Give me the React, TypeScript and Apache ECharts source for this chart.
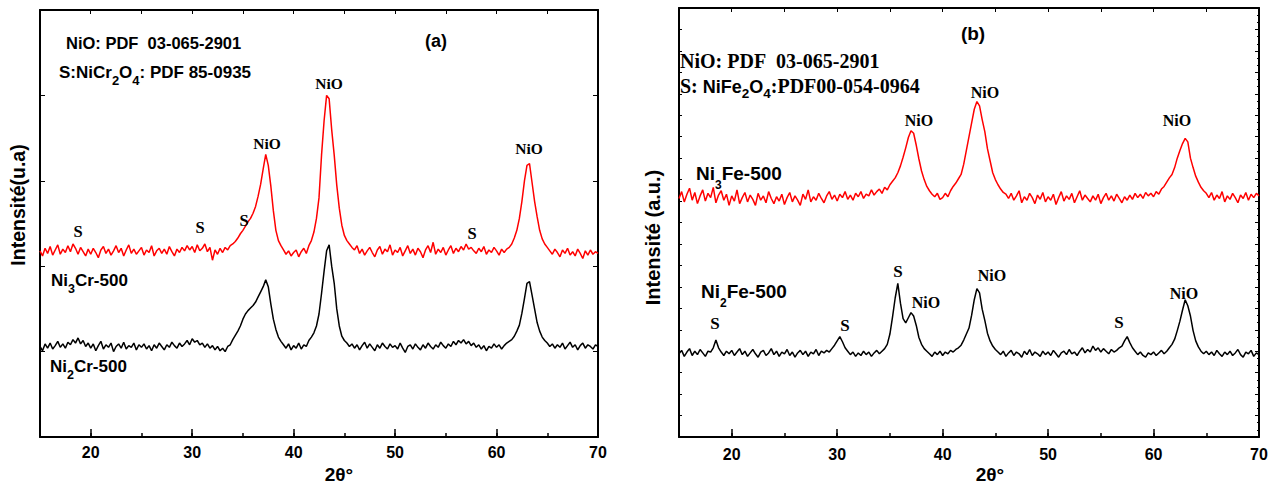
import React, { useEffect, useRef } from "react";
import * as echarts from "echarts";

// 2θ sampling of the digitised patterns
const ANGLE_START = 15;
const ANGLE_STEP = 0.25;

// (a) Ni3Cr-500 (red), 15° → 70° every 0.25°
const ni3Cr500 = [
  218, 212, 221, 215, 223, 213, 219, 225, 214, 220, 216, 224, 217, 226, 221, 214, 222, 217, 212, 220,
  214, 221, 216, 210, 219, 223, 215, 220, 213, 218, 224, 216, 221, 212, 219, 225, 215, 220, 214, 218,
  222, 213, 219, 216, 224, 212, 218, 221, 215, 220, 214, 223, 217, 212, 220, 216, 222, 218, 224, 219,
  223, 216, 225, 218, 221, 226, 217, 222, 207, 219, 214, 221, 216, 222, 219, 224, 226, 229, 233, 238,
  242, 247, 252, 256, 262, 270, 282, 296, 314, 331, 318, 294, 265, 242, 230, 224, 219, 214, 218, 212,
  216, 219, 211, 217, 221, 215, 224, 230, 240, 256, 280, 330, 370, 400, 396, 360, 330, 295, 268, 248,
  236, 230, 226, 222, 219, 224, 215, 220, 213, 218, 222, 216, 211, 219, 223, 214, 220, 217, 225, 213,
  219, 216, 222, 212, 218, 224, 215, 220, 213, 221, 217, 210, 219, 224, 216, 228, 214, 220, 216, 222,
  213, 219, 224, 215, 221, 217, 223, 219, 226, 220, 222, 218, 215, 221, 217, 223, 214, 219, 216, 222,
  218, 213, 220, 216, 220, 222, 226, 233, 242, 256, 276, 300, 318, 320, 298, 276, 258, 242, 232, 226,
  222, 218, 214, 220, 216, 211, 219, 215, 221, 213, 217, 212, 220, 215, 209, 218, 213, 219, 214, 217,
  215,
];

// (a) Ni2Cr-500 (black)
const ni2Cr500 = [
  106, 101, 109, 104, 110, 103, 107, 112, 105, 109, 104, 111, 108, 114, 110, 116, 109, 113, 106, 110,
  104, 109, 101, 107, 112, 103, 108, 105, 110, 100, 106, 109, 104, 111, 103, 107, 105, 110, 102, 108,
  105, 109, 103, 107, 101, 108, 104, 110, 106, 102, 108, 105, 111, 107, 104, 110, 106, 109, 113, 108,
  115, 111, 113, 108, 110, 105, 109, 104, 107, 102, 106, 101, 104, 100, 106, 108, 114, 119, 124, 130,
  138, 144, 148, 151, 154, 158, 164, 170, 176, 184, 176, 156, 138, 126, 117, 112, 108, 104, 109, 102,
  107, 104, 110, 103, 108, 106, 113, 117, 122, 130, 144, 168, 194, 218, 225, 200, 180, 150, 130, 118,
  113, 110, 106, 109, 104, 108, 102, 107, 111, 104, 109, 105, 101, 108, 104, 110, 106, 103, 109, 105,
  107, 103, 110, 104, 99, 106, 108, 103, 109, 105, 102, 108, 104, 110, 106, 103, 108, 105, 111, 107,
  104, 109, 106, 112, 108, 113, 110, 114, 109, 112, 107, 110, 105, 108, 103, 107, 101, 106, 104, 109,
  105, 108, 103, 107, 110, 112, 114, 118, 124, 131, 145, 162, 180, 182, 166, 150, 134, 124, 117, 113,
  110, 106, 109, 104, 108, 105, 110, 103, 107, 111, 105, 108, 102, 107, 110, 104, 108, 106, 103, 108,
  106,
];

// (b) Ni3Fe-500 (red)
const ni3Fe500 = [
  278, 286, 274, 283, 290, 276, 285, 272, 281, 288, 275, 284, 279, 291, 273, 282, 287, 276, 283, 270,
  281, 275, 288, 272, 279, 285, 274, 282, 277, 270, 284, 276, 281, 273, 286, 278, 272, 280, 275, 283,
  271, 279, 285, 274, 281, 276, 270, 283, 277, 288, 274, 280, 276, 284, 278, 273, 281, 286, 277, 282,
  275, 283, 279, 286, 277, 282, 276, 284, 280, 286, 278, 283, 281, 288, 282, 286, 289, 284, 291, 288,
  294, 298, 302, 308, 316, 326, 337, 349, 357, 354, 340, 324, 310, 300, 292, 287, 283, 280, 284, 277,
  279, 284, 280, 287, 292, 296, 301, 306, 318, 334, 350, 366, 382, 391, 386, 370, 356, 336, 322, 308,
  300, 294, 289, 285, 283, 278, 284, 276, 281, 287, 273, 280, 276, 284, 279, 272, 282, 277, 285, 274,
  280, 276, 283, 271, 279, 286, 275, 281, 277, 284, 273, 280, 287, 276, 282, 278, 274, 281, 276, 283,
  272, 279, 284, 276, 281, 275, 283, 278, 273, 280, 276, 282, 277, 284, 279, 283, 278, 285, 281, 284,
  280, 286, 283, 289, 292, 297, 302, 306, 314, 325, 334, 342, 348, 344, 325, 314, 304, 297, 291, 287,
  284, 279, 285, 276, 282, 278, 286, 274, 281, 277, 284, 279, 273, 282, 278, 285, 276, 283, 279, 284,
  281,
];

// (b) Ni2Fe-500 (black)
const ni2Fe500 = [
  97, 101, 94, 99, 103, 95, 100, 96, 102, 98, 94, 100, 99, 104, 113, 104, 99, 95, 100, 97,
  101, 95, 99, 103, 96, 100, 94, 98, 102, 97, 93, 99, 101, 95, 98, 103, 96, 100, 94, 99,
  97, 102, 95, 99, 93, 98, 101, 96, 100, 94, 99, 97, 102, 95, 100, 98, 101, 99, 103, 107,
  112, 117, 111, 104, 100, 96, 99, 94, 98, 95, 100, 96, 99, 94, 98, 101, 97, 100, 103, 108,
  120, 140, 162, 179, 156, 138, 133, 139, 145, 141, 130, 116, 108, 103, 100, 97, 94, 99, 96, 100,
  95, 99, 97, 101, 99, 102, 104, 107, 113, 120, 127, 142, 160, 173, 168, 149, 136, 121, 112, 106,
  102, 99, 96, 100, 94, 98, 101, 95, 99, 97, 93, 100, 96, 102, 95, 99, 97, 94, 100, 96,
  99, 95, 101, 97, 93, 98, 100, 96, 102, 97, 99, 95, 100, 104, 98, 102, 99, 106, 101, 104,
  99, 103, 100, 97, 102, 99, 101, 104, 106, 112, 117, 110, 104, 100, 96, 99, 95, 93, 98, 96,
  99, 95, 98, 101, 97, 100, 104, 108, 114, 124, 135, 148, 160, 153, 141, 124, 112, 105, 100, 97,
  100, 96, 99, 95, 101, 97, 94, 99, 96, 100, 95, 98, 102, 96, 93, 99, 97, 101, 94, 98,
  96,
];

const X_MIN = 15;
const X_MAX = 70;
const Y_MIN = 0;
const Y_MAX = 500;

const SANS = '"Liberation Sans", Arial, Helvetica, sans-serif';
const SERIF = '"Liberation Serif", "Times New Roman", Times, serif';

function toPairs(values: number[]) {
  return values.map((v, i) => [ANGLE_START + i * ANGLE_STEP, v]);
}

const AXIS_COLOR = "#000";

function txt(
  x: number,
  y: number,
  text: string,
  fontSize: number,
  family: string,
  align: string = "center",
  rotation = 0
) {
  return {
    type: "text",
    x,
    y,
    rotation,
    silent: true,
    z: 10,
    style: {
      text,
      fill: "#000",
      fontSize,
      fontWeight: "bold",
      fontFamily: family,
      align,
      textAlign: align,
      verticalAlign: "middle",
      textVerticalAlign: "middle",
    },
  };
}

// rich text with subscripts; y is centre of the main glyphs
function richTxt(
  x: number,
  mainCy: number,
  text: string,
  rich: Record<string, any>,
  pb: number
) {
  return {
    type: "text",
    x,
    y: mainCy + pb / 2,
    silent: true,
    z: 10,
    style: {
      text,
      rich,
      fill: "#000",
      align: "left",
      textAlign: "left",
      verticalAlign: "middle",
      textVerticalAlign: "middle",
    },
  };
}

function mainTok(fontSize: number, family: string, pb: number) {
  return {
    fontSize,
    fontFamily: family,
    fontWeight: "bold",
    color: "#000",
    lineHeight: fontSize,
    verticalAlign: "bottom",
    padding: [0, 0, pb, 0],
  };
}
function subTok(fontSize: number, family: string) {
  return {
    fontSize,
    fontFamily: family,
    fontWeight: "bold",
    color: "#000",
    lineHeight: fontSize,
    verticalAlign: "bottom",
  };
}

function xAxes(grid: number, labelMargin: number) {
  const tickStyle = { color: AXIS_COLOR, width: 1.5 };
  return [
    {
      gridIndex: grid,
      type: "value",
      min: X_MIN,
      max: X_MAX,
      splitNumber: 5,
      position: "bottom",
      axisLine: { show: true, onZero: false, lineStyle: { color: AXIS_COLOR, width: 2 } },
      axisTick: { show: true, inside: true, length: 8, lineStyle: tickStyle },
      splitLine: { show: false },
      axisLabel: {
        show: true,
        margin: labelMargin,
        color: "#000",
        fontFamily: SANS,
        fontWeight: "bold",
        fontSize: 16,
        formatter: (v: number) => (v % 10 === 0 ? String(v) : ""),
      },
    },
    {
      gridIndex: grid,
      type: "value",
      min: X_MIN,
      max: X_MAX,
      interval: 5,
      position: "bottom",
      axisLine: { show: false, onZero: false },
      axisTick: { show: true, inside: true, length: 4, lineStyle: tickStyle },
      splitLine: { show: false },
      axisLabel: { show: false },
    },
    {
      gridIndex: grid,
      type: "value",
      min: X_MIN,
      max: X_MAX,
      interval: 5,
      position: "top",
      axisLine: { show: true, onZero: false, lineStyle: { color: AXIS_COLOR, width: 2 } },
      axisTick: { show: true, inside: true, length: 4, lineStyle: { color: AXIS_COLOR, width: 1 } },
      splitLine: { show: false },
      axisLabel: { show: false },
    },
  ];
}

function yAxis(grid: number, position: string, interval: number, len: number, minor: boolean) {
  return {
    gridIndex: grid,
    type: "value",
    min: Y_MIN,
    max: Y_MAX,
    interval,
    position,
    axisLine: { show: true, onZero: false, lineStyle: { color: AXIS_COLOR, width: 2 } },
    axisTick: { show: true, inside: true, length: len, lineStyle: { color: AXIS_COLOR, width: 1 } },
    minorTick: { show: minor, splitNumber: 3, length: 2, lineStyle: { color: AXIS_COLOR, width: 1 } },
    splitLine: { show: false },
    axisLabel: { show: false },
  };
}

function line(data: number[], color: string, xi: number, yi: number) {
  return {
    type: "line",
    data: toPairs(data),
    xAxisIndex: xi,
    yAxisIndex: yi,
    showSymbol: false,
    symbol: "none",
    silent: true,
    lineStyle: { color, width: 1.5 },
    itemStyle: { color },
    z: 3,
  };
}

export default function App() {
  const ref = useRef<HTMLDivElement>(null);

  useEffect(() => {
    if (!ref.current) return;
    const chart = echarts.init(ref.current, undefined, { renderer: "svg" });

    const pbA = 6;
    const richA = { m: mainTok(17, SANS, pbA), s: subTok(13, SANS) };
    const richSampleA = { m: mainTok(17, SANS, pbA), s: subTok(12.5, SANS) };
    const pbB = 5;
    const richB = {
      t: mainTok(20, SERIF, pbB),
      a: mainTok(18, SANS, pbB),
      s: subTok(13.5, SANS),
    };
    const pbS = 8;
    const richSampleB = { m: mainTok(19, SANS, pbS), s: subTok(12, SANS) };

    const graphics = [
      // panel (a)
      txt(66, 43, "NiO: PDF\u00a0 03-065-2901", 16.5, SANS, "left"),
      richTxt(59, 75.5, "{m|S:NiCr}{s|2}{m|O}{s|4}{m|: PDF 85-0935}", richA, pbA),
      txt(436, 41, "(a)", 18, SANS),
      txt(267, 143, "NiO", 15.5, SERIF),
      txt(329, 83, "NiO", 15.5, SERIF),
      txt(529, 148, "NiO", 15.5, SERIF),
      txt(78, 231, "S", 16.5, SERIF),
      txt(200, 227, "S", 16.5, SERIF),
      txt(244, 220, "S", 16.5, SERIF),
      txt(472, 233, "S", 16.5, SERIF),
      richTxt(51, 283.5, "{m|Ni}{s|3}{m|Cr-500}", richSampleA, pbA),
      richTxt(50, 369.5, "{m|Ni}{s|2}{m|Cr-500}", richSampleA, pbA),
      txt(17.5, 205, "Intensité(u.a)", 19.5, SANS, "center", Math.PI / 2),
      txt(339, 474, "2θ°", 19, SANS),
      // panel (b)
      txt(680, 60.5, "NiO: PDF\u00a0 03-065-2901", 20, SERIF, "left"),
      richTxt(680, 88, "{t|S: }{a|NiFe}{s|2}{a|O}{s|4}{t|:PDF00-054-0964}", richB, pbB),
      txt(973, 33, "(b)", 19, SANS),
      txt(919, 120, "NiO", 16, SERIF),
      txt(985, 92, "NiO", 16, SERIF),
      txt(1177, 120, "NiO", 16, SERIF),
      txt(926, 302, "NiO", 16, SERIF),
      txt(992, 275, "NiO", 16, SERIF),
      txt(1184, 293, "NiO", 16, SERIF),
      txt(715, 323, "S", 17, SERIF),
      txt(845, 325, "S", 17, SERIF),
      txt(898, 271, "S", 17, SERIF),
      txt(1119, 322, "S", 17, SERIF),
      richTxt(696, 177, "{m|Ni}{s|3}{m|Fe-500}", richSampleB, pbS),
      richTxt(701, 295, "{m|Ni}{s|2}{m|Fe-500}", richSampleB, pbS),
      txt(652.5, 237.5, "Intensité (a.u.)", 20, SANS, "center", Math.PI / 2),
      txt(990, 474, "2θ°", 19, SANS),
    ];

    chart.setOption({
      animation: false,
      backgroundColor: "#fff",
      grid: [
        { left: 40, top: 10, width: 558, height: 427, containLabel: false },
        { left: 679, top: 8, width: 580, height: 429, containLabel: false },
      ],
      xAxis: [...xAxes(0, 7), ...xAxes(1, 9)],
      yAxis: [
        yAxis(0, "left", 100, 5, false),
        yAxis(0, "right", 100, 5, false),
        yAxis(1, "left", 25, 3, false),
        yAxis(1, "right", 25, 4, true),
      ],
      series: [
        line(ni2Cr500, "#000000", 0, 0),
        line(ni3Cr500, "#ff0000", 0, 0),
        line(ni2Fe500, "#000000", 3, 2),
        line(ni3Fe500, "#ff0000", 3, 2),
      ],
      graphic: { elements: graphics },
    });

    return () => chart.dispose();
  }, []);

  return (
    <div
      ref={ref}
      style={{ position: "fixed", left: 0, top: 0, width: 1274, height: 486, background: "#fff" }}
    />
  );
}
